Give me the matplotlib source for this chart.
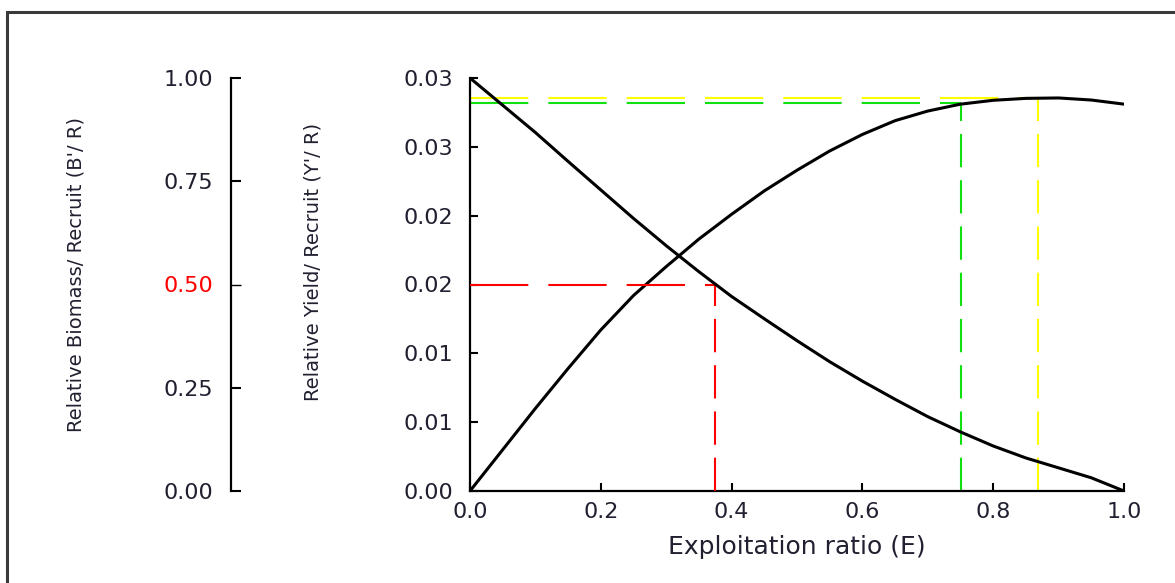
import matplotlib
matplotlib.use("Agg")
import matplotlib.pyplot as plt
from matplotlib.patches import Rectangle

# valores
ratio_e = [0.00, 0.05, 0.10, 0.15, 0.20, 0.25, 0.30, 0.35, 0.40, 0.45, 0.50,
           0.55, 0.60, 0.65, 0.70, 0.75, 0.80, 0.85, 0.90, 0.95, 1.00]
yield_rec = [0.0000, 0.0030, 0.0060, 0.0089, 0.0117, 0.0142, 0.0163, 0.0183,
             0.0201, 0.0218, 0.0233, 0.0247, 0.0259, 0.0269, 0.0276, 0.0281,
             0.02838, 0.02852, 0.02855, 0.0284, 0.0281]
biomass_rec = [1.000, 0.934, 0.868, 0.798, 0.729, 0.660, 0.594, 0.531, 0.471,
               0.417, 0.364, 0.313, 0.266, 0.222, 0.180, 0.143, 0.109, 0.080,
               0.056, 0.032, 0.000]

# puntos de referencia E50, E10 y Emax
e50, b50 = 0.374, 0.50
e10, y10 = 0.751, 0.02816
emax, ymax = 0.869, 0.02857

x_ticks = [0.0, 0.2, 0.4, 0.6, 0.8, 1.0]
x_ticklabels = ['0.0', '0.2', '0.4', '0.6', '0.8', '1.0']
y_ticks = [0.0, 0.005, 0.010, 0.015, 0.020, 0.025, 0.030]
y_ticklabels = ['0.00', '0.01', '0.01', '0.02', '0.02', '0.03', '0.03']
b_ticks = [0.0, 0.25, 0.50, 0.75, 1.00]
b_ticklabels = ['0.00', '0.25', '0.50', '0.75', '1.00']

plt.rcParams['font.family'] = ['DejaVu Sans']
txt_color = '#202030'

fig = plt.figure(figsize=(11.75, 5.83), dpi=100)
ax = fig.add_axes([470 / 1175, 1 - 491 / 583, (1124 - 470) / 1175, (491 - 78) / 583])

# lineas de referencia (Y'/R)
ax.plot([0, e10], [y10, y10], color='#10e010', lw=1.5, dashes=(28, 9.6), zorder=1)
ax.plot([e10, e10], [0, y10], color='#10e010', lw=1.5, dashes=(16, 6.2), zorder=1)
ax.plot([0, emax], [ymax, ymax], color='#ffff00', lw=1.5, dashes=(28, 9.6), zorder=1)
ax.plot([emax, emax], [0, ymax], color='#ffff00', lw=1.5, dashes=(16, 6.2), zorder=1)

ax.plot(ratio_e, yield_rec, color='black', lw=2.2, zorder=3)

ax.set_xlim(0, 1)
ax.set_ylim(0, 0.03)
ax.set_xticks(x_ticks)
ax.set_xticklabels(x_ticklabels)
ax.set_yticks(y_ticks)
ax.set_yticklabels(y_ticklabels)
for s in ['top', 'right']:
    ax.spines[s].set_visible(False)
for s in ['left', 'bottom']:
    ax.spines[s].set_linewidth(1.6)
ax.tick_params(axis='x', direction='in', length=6, width=1.5, pad=8,
               labelsize=16, labelcolor=txt_color)
ax.tick_params(axis='y', direction='in', length=6, width=1.5, pad=12,
               labelsize=16, labelcolor=txt_color)
ax.set_xlabel('Exploitation ratio (E)', fontsize=18, color=txt_color, labelpad=9)

# eje de biomasa (B'/R)
ax_b = ax.twinx()
ax_b.plot([0, e50], [b50, b50], color='red', lw=1.5, dashes=(28, 9.6), zorder=1)
ax_b.plot([e50, e50], [0, b50], color='red', lw=1.5, dashes=(16, 6.2), zorder=1)
ax_b.plot(ratio_e, biomass_rec, color='black', lw=2.2, zorder=3)
ax_b.set_ylim(0, 1)
for s in ['top', 'right', 'bottom']:
    ax_b.spines[s].set_visible(False)
ax_b.spines['left'].set_visible(True)
ax_b.spines['left'].set_position(('outward', 239 / 100 * 72))
ax_b.spines['left'].set_linewidth(1.6)
ax_b.yaxis.set_ticks_position('left')
ax_b.set_yticks(b_ticks)
ax_b.set_yticklabels(b_ticklabels)
ax_b.tick_params(axis='y', direction='in', length=7, width=1.5, pad=13,
                 labelsize=16, labelcolor=txt_color)
t50 = ax_b.yaxis.get_major_ticks()[2]
t50.tick1line.set_color('red')
t50.tick1line.set_markeredgewidth(1.0)
t50.label1.set_color('red')

fig.text(313 / 1175, 1 - 262 / 583, "Relative Yield/ Recruit (Y'/ R)", rotation=90,
         ha='center', va='center', fontsize=14, color=txt_color)
fig.text(76 / 1175, 1 - 275 / 583, "Relative Biomass/ Recruit (B'/ R)", rotation=90,
         ha='center', va='center', fontsize=14, color=txt_color)

# marco exterior
fig.add_artist(Rectangle((7 / 1175, -0.5), 2, 1.5 - 12 / 583, transform=fig.transFigure,
                         fill=False, lw=2.2, ec='#3a3a3a'))

fig.savefig('out.png', dpi=100)
